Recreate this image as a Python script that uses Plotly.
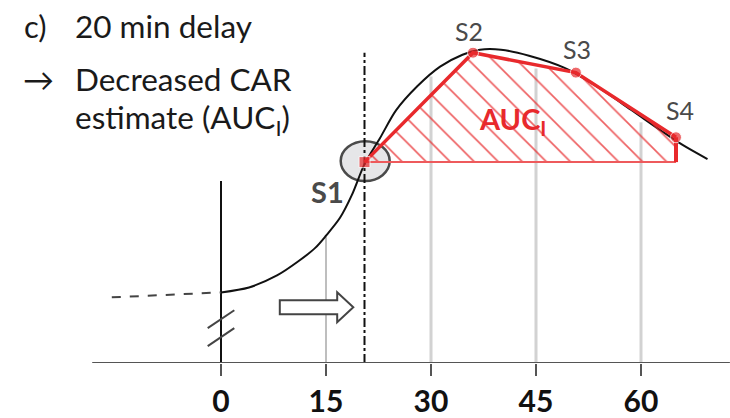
import plotly.graph_objects as go

# ---- data -------------------------------------------------------------
# cortisol-style response curve (minutes after awakening, relative level)
curve_t = [0, 4, 8, 11, 13.5, 15, 17, 18.7, 20.5, 22.7, 25, 28, 31.3, 34.5,
           37, 40, 44, 49, 53.7, 58.5, 63, 66, 69.5]
curve_y = [71, 76, 88, 102, 116, 128, 146, 169, 200, 226, 254, 278, 298, 310,
           315, 315, 309, 297, 278, 255, 233, 219, 205]

# pre-awakening segment (dashed)
pre_t = [-15.6, 0]
pre_y = [66, 71]

# delayed samples
sample_names = ["S1", "S2", "S3", "S4"]
sample_t = [20.5, 36, 50.7, 65]
sample_y = [202, 312, 292, 227]

# nominal sampling grid
grid_t = [15, 30, 45, 60]
grid_top = [128, 288, 296, 242]

tick_vals = [0, 15, 30, 45, 60]
tick_text = ["0", "15", "30", "45", "60"]

RED = "#e8292c"
GREY_TXT = "#4a4a4a"
FONT = "Lato"

fig = go.Figure()

# sampling grid lines
for t, top in zip(grid_t, grid_top):
    thin = t == 15
    fig.add_trace(go.Scatter(
        x=[t, t], y=[0, top], mode="lines",
        line=dict(color="#a8a8a8" if thin else "#d2d2d2", width=1.5 if thin else 3),
        hoverinfo="skip", showlegend=False))

# awakening axis (x = 0)
fig.add_trace(go.Scatter(x=[0, 0], y=[0, 183], mode="lines",
                         line=dict(color="#111111", width=2),
                         hoverinfo="skip", showlegend=False))

# delayed start marker (dash-dot)
fig.add_trace(go.Scatter(x=[sample_t[0], sample_t[0]], y=[0, 312], mode="lines",
                         line=dict(color="#111111", width=2, dash="dashdot"),
                         hoverinfo="skip", showlegend=False))

# pre-awakening dashed part
fig.add_trace(go.Scatter(x=pre_t, y=pre_y, mode="lines",
                         line=dict(color="#444444", width=2, dash="dash"),
                         hoverinfo="skip", showlegend=False))

# response curve
fig.add_trace(go.Scatter(x=curve_t, y=curve_y, mode="lines",
                         line=dict(color="#111111", width=2, shape="spline", smoothing=0.8),
                         hoverinfo="skip", showlegend=False))

# hatched AUC_I area above S1 level
base = sample_y[0]
poly_t = sample_t + [sample_t[-1], sample_t[0]]
poly_y = sample_y + [base, base]
fig.add_trace(go.Scatter(
    x=poly_t, y=poly_y, mode="lines", fill="toself",
    fillcolor="rgba(255,255,255,0)",
    fillpattern=dict(shape="\\", fgcolor=RED, fgopacity=0.75, size=17, solidity=0.1,
                     bgcolor="rgba(255,255,255,0)"),
    line=dict(width=0), hoverinfo="skip", showlegend=False))

# baseline S1 -> S4
fig.add_trace(go.Scatter(x=[sample_t[0], sample_t[-1]], y=[base, base], mode="lines",
                         line=dict(color="#ee5a5c", width=2),
                         hoverinfo="skip", showlegend=False))
# S4 drop to baseline
fig.add_trace(go.Scatter(x=[sample_t[-1], sample_t[-1]], y=[sample_y[-1], base], mode="lines",
                         line=dict(color=RED, width=4),
                         hoverinfo="skip", showlegend=False))
# polyline through samples
fig.add_trace(go.Scatter(x=sample_t, y=sample_y, mode="lines",
                         line=dict(color=RED, width=3.5),
                         hoverinfo="skip", showlegend=False))
# sample markers
fig.add_trace(go.Scatter(x=sample_t, y=sample_y, mode="markers",
                         marker=dict(color=RED, size=[11, 11, 11, 11],
                                     symbol=["square", "circle", "circle", "circle"]),
                         hoverinfo="skip", showlegend=False))

# ---- decorations --------------------------------------------------------
shapes = []
# highlight ring around S1
shapes.append(dict(type="circle", layer="below", xref="x", yref="y",
                   x0=sample_t[0] - 3.4, x1=sample_t[0] + 3.6,
                   y0=base - 19, y1=base + 21,
                   fillcolor="#e6e6e8", line=dict(color="#4a4a4a", width=2.5)))
# time axis line
shapes.append(dict(type="line", xref="x", yref="y", x0=-18.4, x1=72.7, y0=0, y1=0,
                   line=dict(color="#555555", width=2), layer="above"))
# axis break marks
for y0 in (17, 35):
    shapes.append(dict(type="line", xref="x", yref="y", x0=-1.9, x1=1.9,
                       y0=y0, y1=y0 + 18, line=dict(color="#444444", width=2)))
# hollow shift arrow
ax0, ax1, ax2 = 8.4, 16.6, 18.9
ay, bh, hh = 56, 7, 15
shapes.append(dict(
    type="path", xref="x", yref="y",
    path=(f"M {ax0} {ay - bh} L {ax1} {ay - bh} L {ax1} {ay - hh} L {ax2} {ay} "
          f"L {ax1} {ay + hh} L {ax1} {ay + bh} L {ax0} {ay + bh} Z"),
    fillcolor="white", line=dict(color="#444444", width=2)))

annotations = []
def label(x, y, text, size, color="#1a1a1a", bold=False, xanchor="center"):
    annotations.append(dict(x=x, y=y, xref="x", yref="y", text=text, showarrow=False,
                            xanchor=xanchor, yanchor="middle",
                            font=dict(family=FONT, size=size, color=color,
                                      weight="bold" if bold else "normal")))

label(-28.4, 339, "c)", 31, xanchor="left")
label(-21.1, 339, "20 min delay", 31.5, xanchor="left")
label(-28.6, 286, "→", 31, xanchor="left")
label(-21.1, 286, "Decreased CAR", 31.5, xanchor="left")
label(-21.1, 245, "estimate (AUC<sub>I</sub>)", 31.5, xanchor="left")

label(15.2, 172, "S1", 29, color=GREY_TXT, bold=True)
label_offsets = [(0, 0), (-0.6, 22), (0.2, 24), (0.6, 27)]
for name, t, v, (dx, dy) in list(zip(sample_names, sample_t, sample_y, label_offsets))[1:]:
    label(t + dx, v + dy, name, 25, color=GREY_TXT)

label(41.6, 244, "AUC<sub>I</sub>", 29, color=RED, bold=True)

fig.update_layout(
    width=730, height=418,
    margin=dict(l=0, r=0, t=0, b=53),
    paper_bgcolor="white", plot_bgcolor="white",
    shapes=shapes, annotations=annotations,
    xaxis=dict(range=[-221 / 7, 509 / 7], showgrid=False, zeroline=False, showline=False,
               tickmode="array", tickvals=tick_vals, ticktext=tick_text,
               ticks="outside", ticklen=12, tickwidth=2, tickcolor="#555555",
               tickfont=dict(family=FONT, size=30, color="#111111", weight="bold")),
    yaxis=dict(range=[0, 365], visible=False),
)

fig.write_html("out.html")
